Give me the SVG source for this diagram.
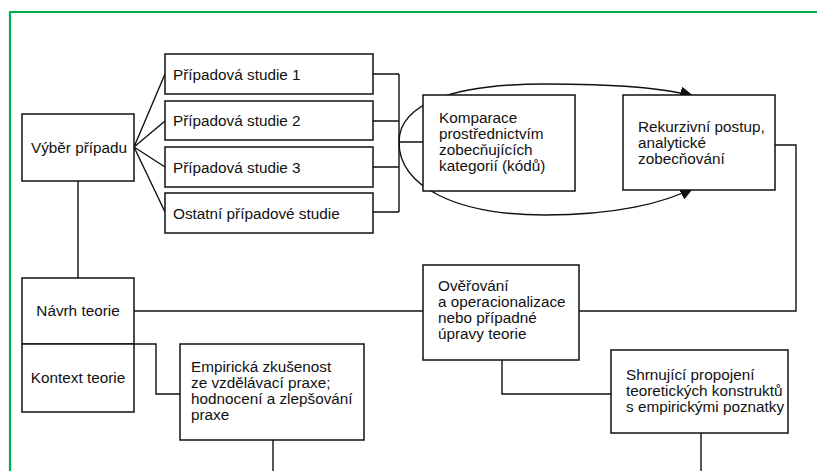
<svg xmlns="http://www.w3.org/2000/svg" width="817" height="471" viewBox="0 0 817 471">
  <style>
    .box { fill: #ffffff; stroke: #111111; stroke-width: 1.5; }
    .lbl { font-family: "Liberation Sans", Arial, sans-serif; font-size: 15.3px; fill: #111111; }
    .mid { text-anchor: middle; }
    .wire { fill: none; stroke: #111111; stroke-width: 1.4; }
  </style>
  <defs>
    <marker id="arrow" markerWidth="14" markerHeight="12" refX="13" refY="6" orient="auto" markerUnits="userSpaceOnUse">
      <path d="M0,0 L14,6 L0,12 Z" fill="#111111"/>
    </marker>
  </defs>

  <rect width="817" height="471" fill="#ffffff"/>
  <!-- green frame (open at right and bottom) -->
  <path d="M10,471 L10,12 L817,12" fill="none" stroke="#00b050" stroke-width="2.2"/>

  <!-- connectors -->
  <g id="connectors">
    <!-- fan from case selection to the studies -->
    <path class="wire" d="M134,147 L165,74 M134,147 L165,121 M134,147 L165,167 M134,147 L165,212"/>
    <!-- bracket collecting the studies -->
    <path class="wire" d="M373,74 L399,74 M373,121 L399,121 M373,167 L399,167 M373,212 L399,212 M399,74 L399,212 M399,142 L423,142"/>
    <!-- curved arrows to recursive step -->
    <path class="wire" marker-end="url(#arrow)" d="M399,142 C399,103 455,84 545,84 C620,84 668,89 693,96"/>
    <path class="wire" marker-end="url(#arrow)" d="M399,142 C399,186 455,215 545,215 C615,215 665,203 693,188"/>
    <!-- recursive step back to verification -->
    <path class="wire" d="M775,145 L796,145 L796,311 L579,311"/>
    <!-- case selection down to theory draft -->
    <path class="wire" d="M78,181 L78,278"/>
    <!-- theory draft to verification -->
    <path class="wire" d="M134,311 L423,311"/>
    <!-- theory to empirical experience -->
    <path class="wire" d="M134,344 L156,344 L156,394 L180,394"/>
    <!-- verification to summary -->
    <path class="wire" d="M502,360 L502,394 L611,394"/>
    <!-- outgoing lines at the bottom -->
    <path class="wire" d="M273,440 L273,471 M701,433 L701,471"/>
  </g>

  <g id="vyber-pripadu">
    <rect class="box" x="22" y="114" width="112" height="67"/>
    <text class="lbl mid" x="79" y="153">Výběr případu</text>
  </g>

  <g id="studie-1">
    <rect class="box" x="165" y="54" width="208" height="40"/>
    <text class="lbl" x="173" y="80">Případová studie 1</text>
  </g>
  <g id="studie-2">
    <rect class="box" x="165" y="101" width="208" height="39"/>
    <text class="lbl" x="173" y="126">Případová studie 2</text>
  </g>
  <g id="studie-3">
    <rect class="box" x="165" y="147" width="208" height="40"/>
    <text class="lbl" x="173" y="173">Případová studie 3</text>
  </g>
  <g id="studie-ostatni">
    <rect class="box" x="165" y="193" width="208" height="40"/>
    <text class="lbl" x="173" y="219">Ostatní případové studie</text>
  </g>

  <g id="komparace">
    <rect class="box" x="423" y="95" width="152" height="96"/>
    <text class="lbl" x="439" y="123">Komparace</text>
    <text class="lbl" x="439" y="139">prostřednictvím</text>
    <text class="lbl" x="439" y="155">zobecňujících</text>
    <text class="lbl" x="439" y="171">kategorií (kódů)</text>
  </g>

  <g id="rekurzivni-postup">
    <rect class="box" x="623" y="95" width="152" height="95"/>
    <text class="lbl" x="638" y="132">Rekurzivní postup,</text>
    <text class="lbl" x="638" y="148">analytické</text>
    <text class="lbl" x="638" y="164">zobecňování</text>
  </g>

  <g id="navrh-teorie">
    <rect class="box" x="22" y="278" width="112" height="66"/>
    <text class="lbl mid" x="78" y="316">Návrh teorie</text>
  </g>

  <g id="kontext-teorie">
    <rect class="box" x="22" y="344" width="112" height="68"/>
    <text class="lbl mid" x="78" y="383">Kontext teorie</text>
  </g>

  <g id="overovani">
    <rect class="box" x="423" y="265" width="156" height="95"/>
    <text class="lbl" x="438" y="291">Ověřování</text>
    <text class="lbl" x="438" y="307">a operacionalizace</text>
    <text class="lbl" x="438" y="323">nebo případné</text>
    <text class="lbl" x="438" y="339">úpravy teorie</text>
  </g>

  <g id="empiricka-zkusenost">
    <rect class="box" x="180" y="344" width="184" height="96"/>
    <text class="lbl" x="191" y="372">Empirická zkušenost</text>
    <text class="lbl" x="191" y="388">ze vzdělávací praxe;</text>
    <text class="lbl" x="191" y="404">hodnocení a zlepšování</text>
    <text class="lbl" x="191" y="420">praxe</text>
  </g>

  <g id="shrnujici-propojeni">
    <rect class="box" x="611" y="350" width="177" height="83"/>
    <text class="lbl" x="626" y="380">Shrnující propojení</text>
    <text class="lbl" x="626" y="396">teoretických konstruktů</text>
    <text class="lbl" x="626" y="412">s empirickými poznatky</text>
  </g>
</svg>
